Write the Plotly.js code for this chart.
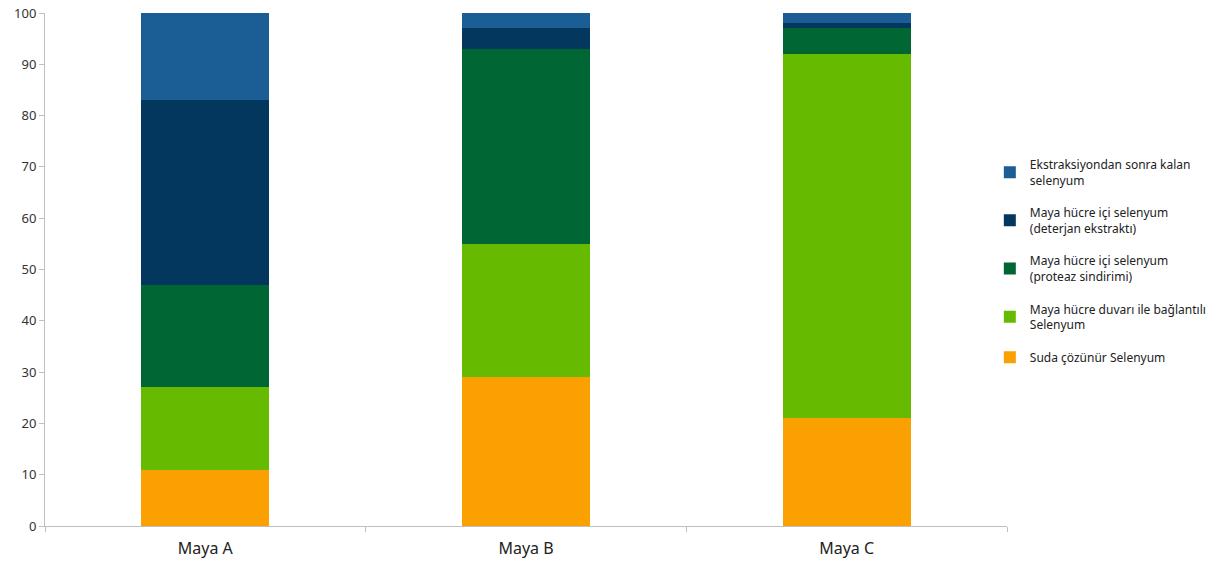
<!DOCTYPE html>
<html><head><meta charset="utf-8">
<script src="https://cdn.plot.ly/plotly-3.0.1.min.js"></script>
<style>body{margin:0;background:#fff}#c{width:1219px;height:565px}</style>
</head><body><div id="c"></div>
<script>
const categories = ["Maya A", "Maya B", "Maya C"];
const seriesNames = [
  "Suda çözünür Selenyum",
  "Maya hücre duvarı ile bağlantılı<br>Selenyum",
  "Maya hücre içi selenyum<br>(proteaz sindirimi)",
  "Maya hücre içi selenyum<br>(deterjan ekstraktı)",
  "Ekstraksiyondan sonra kalan<br>selenyum"
];
const sudaCozunur = [11, 29, 21];
const hucreDuvari = [16, 26, 71];
const proteaz = [20, 38, 5];
const deterjan = [36, 4, 1];
const kalan = [17, 3, 2];
const colors = ["#FAA000", "#66BB00", "#006633", "#04375E", "#1B5E96"];
const allSeries = [sudaCozunur, hucreDuvari, proteaz, deterjan, kalan];

const traces = allSeries.map((vals, i) => ({
  type: "bar", x: categories, y: vals, name: seriesNames[i],
  legendgroup: "g" + i, legendrank: 1000 - i,
  marker: {color: colors[i], line: {width: 0}},
  width: 0.4, hoverinfo: "y+name"
}));

const layout = {
  barmode: "stack",
  paper_bgcolor: "#fff", plot_bgcolor: "#fff",
  margin: {l: 45, r: 212, t: 13, b: 39, autoexpand: false},
  font: {family: "Noto Sans, Roboto, sans-serif", color: "#222"},
  showlegend: true,
  legend: {
    xref: "container", yref: "container",
    x: 0.812, xanchor: "left", y: 0.538, yanchor: "middle",
    traceorder: "grouped", tracegroupgap: 14,
    font: {size: 12, color: "#222"}, itemwidth: 30
  },
  xaxis: {
    showline: true, linecolor: "#BFBFBF", linewidth: 1,
    ticks: "outside", tickson: "boundaries", ticklen: 5, tickcolor: "#BFBFBF",
    tickfont: {size: 16, color: "#222"}, ticklabelstandoff: 8,
    showgrid: false, zeroline: false
  },
  yaxis: {
    range: [0, 100], dtick: 10, showline: true, linecolor: "#BFBFBF", linewidth: 1,
    ticks: "outside", ticklen: 5, tickcolor: "#BFBFBF",
    tickfont: {size: 13, color: "#333"}, showgrid: false, zeroline: false
  }
};
Plotly.newPlot("c", traces, layout, {displayModeBar: false});
</script></body></html>
